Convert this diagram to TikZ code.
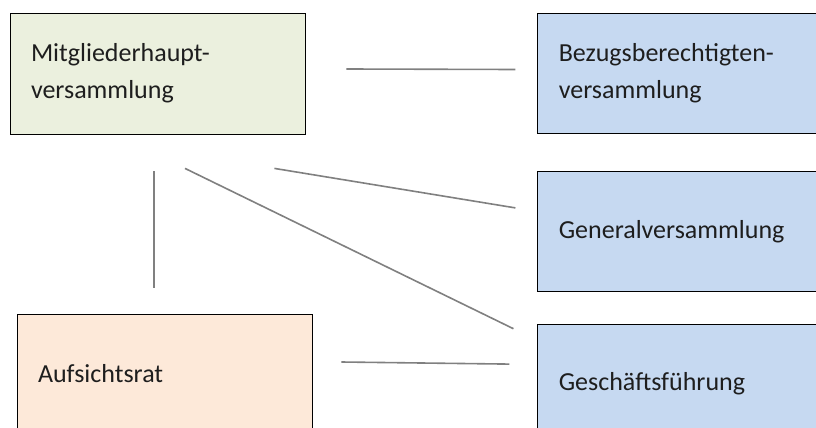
\documentclass[tikz,border=0pt]{standalone}
\usepackage{fontspec}
\setmainfont{Carlito}
\usetikzlibrary{positioning}
\definecolor{mitgreen}{HTML}{EBF0DE}
\definecolor{orgblue}{HTML}{C6D9F1}
\definecolor{auforange}{HTML}{FDE9D9}
\definecolor{linkgray}{HTML}{808080}
\definecolor{textdark}{HTML}{1E1E1E}
\begin{document}
\begin{tikzpicture}[
    x=1pt, y=-1pt,
    orgbox/.style={draw=black, line width=0.8pt, minimum width=295pt,
                 minimum height=120pt, text width=253pt, inner xsep=21pt,
                 align=left, text=textdark,
                 font=\fontsize{26}{37}\selectfont},
    link/.style={draw=linkgray, line width=1.6pt},
]
\clip (0,0) rectangle (816,428);
\fill[white] (0,0) rectangle (816,428);

\node[orgbox, fill=mitgreen, minimum height=121pt] (mit) at (157.5,73.5) {Mitgliederhaupt-\\versammlung};
\node[orgbox, fill=orgblue, right=232pt of mit] (bez) {Bezugsberechtigten-\\versammlung};
\node[orgbox, fill=orgblue, below=37pt of bez] (gen) {Generalversammlung};
\node[orgbox, fill=orgblue, below=32pt of gen] (ges) {Geschäftsführung};
\node[orgbox, fill=auforange] (auf) at (164.5,374) {Aufsichtsrat};

\draw[link] ([xshift=41pt,yshift=4.5pt]mit.east) -- ([xshift=-22pt,yshift=4pt]bez.west);
\draw[link] ([xshift=-3.5pt,yshift=-37pt]mit.south) -- ([xshift=-10.5pt,yshift=26pt]auf.north);
\draw[link] ([xshift=27.5pt,yshift=-34pt]mit.south) -- ([xshift=-24pt,yshift=-5pt]ges.north west);
\draw[link] ([xshift=-31pt,yshift=-34pt]mit.south east) -- ([xshift=-22pt,yshift=-37pt]gen.north west);
\draw[link] ([xshift=29pt,yshift=12pt]auf.east) -- ([xshift=-28pt,yshift=20pt]ges.west);
\end{tikzpicture}
\end{document}
